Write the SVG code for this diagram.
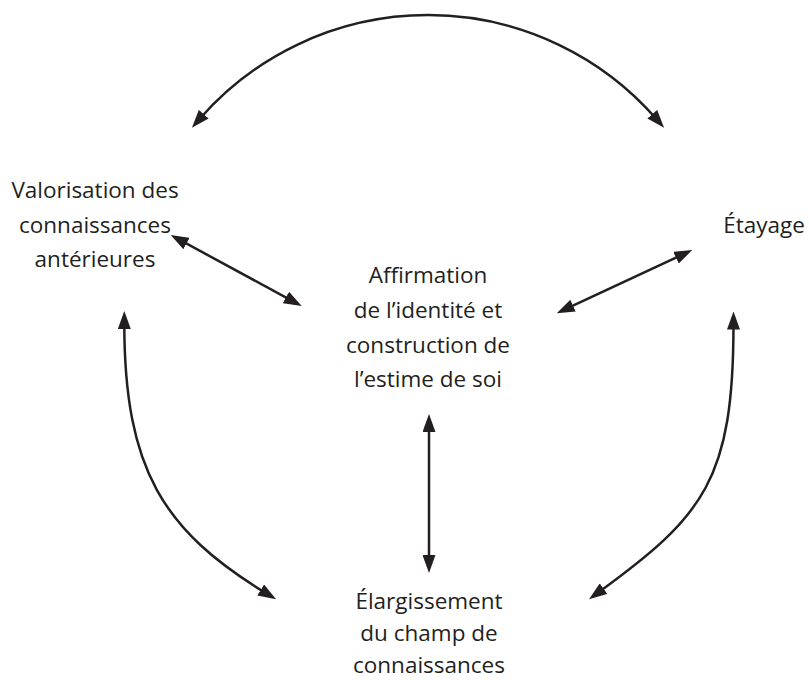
<svg xmlns="http://www.w3.org/2000/svg" width="809" height="680" viewBox="0 0 809 680">
<defs>
<marker id="arr" viewBox="0 0 18 13" refX="6" refY="6.5" markerWidth="18" markerHeight="13" markerUnits="userSpaceOnUse" orient="auto-start-reverse">
<path d="M0,0 L18,6.5 L0,13 z" fill="#231f20"/>
</marker>
<style>
.lbl{font-family:"Open Sans","Noto Sans","Liberation Sans",sans-serif;font-size:22.5px;fill:#231f20;text-anchor:middle}
.con{fill:none;stroke:#231f20;stroke-width:2.5;marker-start:url(#arr);marker-end:url(#arr)}
</style>
</defs>
<rect width="809" height="680" fill="#ffffff"/>
<g id="connectors">
<path class="con" d="M199.8,118.7 A303,303 0 0 1 656.2,118.7"/>
<path class="con" d="M181.2,240.7 L291.2,300.3"/>
<path class="con" d="M567.6,308.2 L681.4,255.1"/>
<path class="con" d="M429,426 L429,561"/>
<path class="con" d="M265.8,593.1 C163.8,530.7 124.3,470 124.3,323"/>
<path class="con" d="M598.7,592.2 C704,515.5 733.5,480 733.5,323.5"/>
</g>
<g id="node-valorisation">
<text class="lbl" x="95" y="198">Valorisation des</text>
<text class="lbl" x="95" y="233">connaissances</text>
<text class="lbl" x="95" y="267">antérieures</text>
</g>
<g id="node-etayage">
<text class="lbl" x="764" y="233">Étayage</text>
</g>
<g id="node-affirmation">
<text class="lbl" x="428" y="283">Affirmation</text>
<text class="lbl" x="428" y="318">de l’identité et</text>
<text class="lbl" x="428" y="353">construction de</text>
<text class="lbl" x="428" y="387">l’estime de soi</text>
</g>
<g id="node-elargissement">
<text class="lbl" x="429" y="609">Élargissement</text>
<text class="lbl" x="429" y="641">du champ de</text>
<text class="lbl" x="429" y="673">connaissances</text>
</g>
</svg>
